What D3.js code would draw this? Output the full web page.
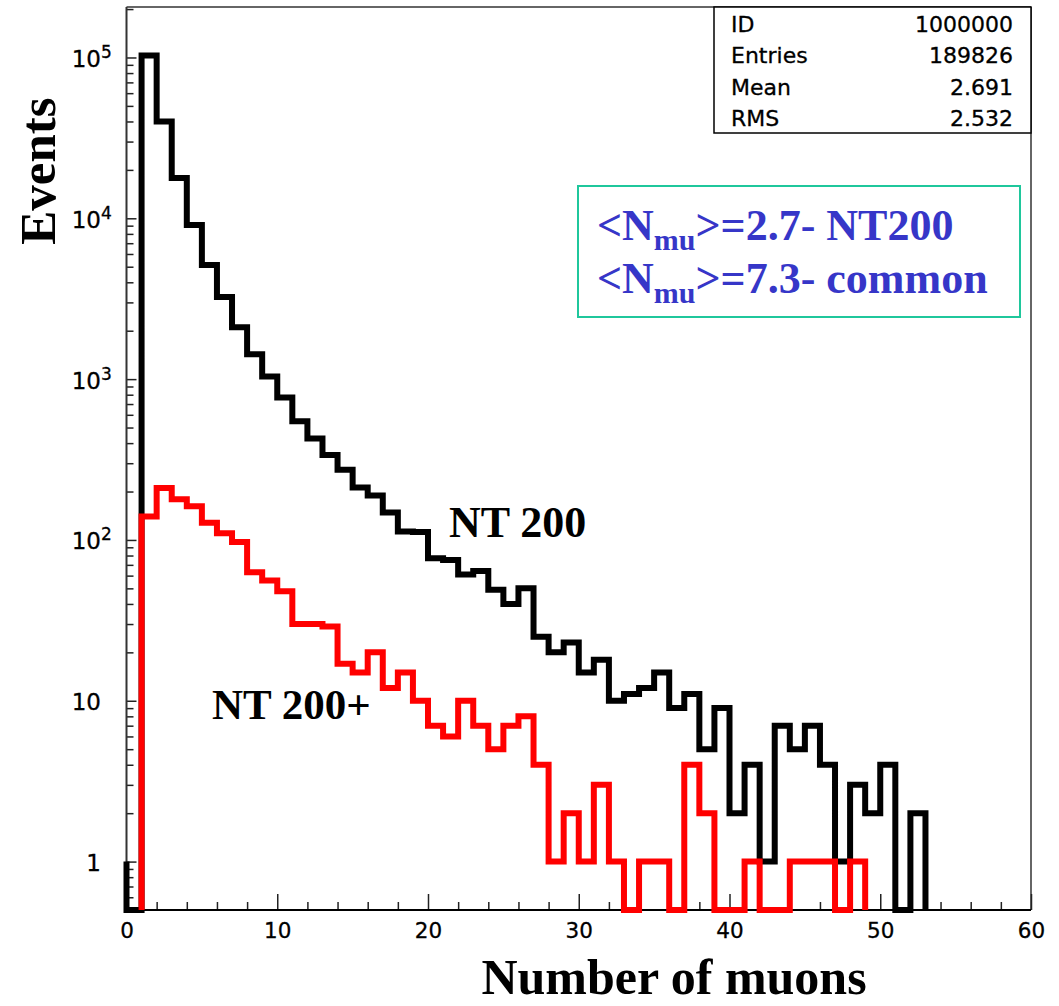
<!DOCTYPE html>
<html>
<head>
<meta charset="utf-8">
<script src="https://cdn.jsdelivr.net/npm/d3@7"></script>
<style>
  body { margin: 0; background: #fff; }
  svg { display: block; }
  .tick line { stroke: #222; stroke-width: 1.5; }
</style>
</head>
<body>
<script>
// unit-wide bins of "Number of muons"
// NT200 (black) : bins 0..52, enters the frame at x=0 at level nt200Under
const nt200Start = 0;
const nt200Under = 1;
const nt200Counts = [0, 103000, 40000, 17800, 9100, 5130, 3240, 2100, 1430, 1040,
  770, 548, 427, 338, 273, 212, 189, 148, 113, 112,
  77, 75, 61, 64, 49, 40, 50, 25, 20, 23,
  15, 18, 10, 11, 12, 15, 9, 11, 5, 9,
  2, 4, 1, 7, 5, 7, 4, 1, 3, 2,
  4, 0, 2];

// NT200+ (red) : bins 1..48
const nt200pStart = 1;
const nt200pUnder = 0;
const nt200pCounts = [140, 210, 179, 162, 128, 110, 97, 63, 56,
  48, 30, 30, 29, 17, 15, 20, 12, 15, 10,
  7, 6, 10, 7, 5, 7, 8, 4, 1, 2,
  1, 3, 1, 0, 1, 1, 0, 4, 2, 0,
  0, 1, 0, 0, 1, 1, 1, 0, 1];

const xMajorTicks = [0, 10, 20, 30, 40, 50, 60];
const xMinorTicks = d3.range(0, 61, 2).filter(function(v) { return v % 10 !== 0; });
const yDecades = [1, 10, 100, 1000, 10000, 100000];
const yDecadeBase = ["1", "10", "10", "10", "10", "10"];
const yDecadeExp = ["", "", "2", "3", "4", "5"];

const statNames = ["ID", "Entries", "Mean", "RMS"];
const statValues = ["1000000", "189826", "2.691", "2.532"];

const legendMeans = ["2.7", "7.3"];
const legendNames = ["NT200", "common"];

var width = 1059, height = 1006;
var frame = {left: 126.5, right: 1031, top: 7, bottom: 910};

var svg = d3.select("body").append("svg")
  .attr("width", width)
  .attr("height", height);

svg.append("rect").attr("width", width).attr("height", height).attr("fill", "#fff");

var x = d3.scaleLinear().domain([0, 60]).range([frame.left, frame.right]);
var y = d3.scaleLog().domain([0.5, 2.06e5]).range([frame.bottom, frame.top]);

// empty bins sit on the bottom of the frame
function yv(v) { return v > 0 ? y(v) : y(0.5); }

// frame
svg.append("line").attr("x1", frame.left).attr("x2", frame.right)
  .attr("y1", frame.top).attr("y2", frame.top)
  .attr("stroke", "#333").attr("stroke-width", 1.5);
svg.append("line").attr("x1", frame.right).attr("x2", frame.right)
  .attr("y1", frame.top).attr("y2", frame.bottom)
  .attr("stroke", "#666").attr("stroke-width", 2);

// y axis ticks (inside, pointing right)
var yMinor = y.ticks().filter(function(v) { return yDecades.indexOf(v) < 0; });
var yAxisMinor = svg.append("g")
  .attr("transform", "translate(" + frame.left + ",0)")
  .call(d3.axisRight(y).tickValues(yMinor).tickSize(7).tickSizeOuter(0).tickFormat(""));
yAxisMinor.select(".domain").remove();
var yAxisMajor = svg.append("g")
  .attr("transform", "translate(" + frame.left + ",0)")
  .call(d3.axisRight(y).tickValues(yDecades).tickSize(10).tickSizeOuter(0).tickFormat(""));
yAxisMajor.select(".domain").remove();

// x axis ticks (inside, pointing up)
var xAxisMinor = svg.append("g")
  .attr("transform", "translate(0," + frame.bottom + ")")
  .call(d3.axisBottom(x).tickValues(xMinorTicks).tickSize(-8).tickSizeOuter(0).tickFormat(""));
xAxisMinor.select(".domain").remove();
var xAxisMajor = svg.append("g")
  .attr("transform", "translate(0," + frame.bottom + ")")
  .call(d3.axisBottom(x).tickValues(xMajorTicks).tickSize(-16).tickSizeOuter(0).tickPadding(13));
xAxisMajor.select(".domain").remove();
xAxisMajor.selectAll("text")
  .attr("font-family", "DejaVu Sans")
  .attr("font-size", 21.5)
  .attr("fill", "#000")
  .attr("stroke", "#000")
  .attr("stroke-width", 0.3);

// axis lines
svg.append("line").attr("x1", frame.left).attr("x2", frame.left)
  .attr("y1", frame.top).attr("y2", frame.bottom)
  .attr("stroke", "#333").attr("stroke-width", 2);
svg.append("line").attr("x1", frame.left).attr("x2", frame.right)
  .attr("y1", frame.bottom).attr("y2", frame.bottom)
  .attr("stroke", "#000").attr("stroke-width", 2);

// y labels 1, 10, 10^2 ...
var yLab = svg.append("g").attr("font-family", "DejaVu Sans").attr("fill", "#000")
  .attr("stroke", "#000").attr("stroke-width", 0.3);
yDecades.forEach(function(v, i) {
  yLab.append("text")
    .attr("x", 101)
    .attr("y", y(v) + 9.5)
    .attr("text-anchor", "end")
    .attr("font-size", 23)
    .text(yDecadeBase[i]);
  if (yDecadeExp[i]) {
    yLab.append("text")
      .attr("x", 101)
      .attr("y", y(v) + 0.5)
      .attr("font-size", 17)
      .text(yDecadeExp[i]);
  }
});

// step outline of a histogram
function stepPoints(counts, start, under) {
  var pts = [[start, under]];
  counts.forEach(function(c, i) {
    pts.push([start + i, c]);
    pts.push([start + i + 1, c]);
  });
  pts.push([start + counts.length, 0]);
  return pts;
}

var line = d3.line()
  .x(function(d) { return x(d[0]); })
  .y(function(d) { return yv(d[1]); });

svg.append("path")
  .datum(stepPoints(nt200Counts, nt200Start, nt200Under))
  .attr("d", line)
  .attr("fill", "none")
  .attr("stroke", "#000")
  .attr("stroke-width", 6)
  .attr("stroke-linejoin", "miter");

svg.append("path")
  .datum(stepPoints(nt200pCounts, nt200pStart, nt200pUnder))
  .attr("d", line)
  .attr("fill", "none")
  .attr("stroke", "#ff0000")
  .attr("stroke-width", 6)
  .attr("stroke-linejoin", "miter");

// curve labels
svg.append("text")
  .attr("x", 449).attr("y", 537)
  .attr("font-family", "Liberation Serif").attr("font-weight", "bold")
  .attr("font-size", 44)
  .text("NT 200");
svg.append("text")
  .attr("x", 212).attr("y", 719)
  .attr("font-family", "Liberation Serif").attr("font-weight", "bold")
  .attr("font-size", 43)
  .text("NT 200+");

// axis titles
svg.append("text")
  .attr("transform", "translate(55,171) rotate(-90)")
  .attr("text-anchor", "middle")
  .attr("font-family", "Liberation Serif").attr("font-weight", "bold")
  .attr("font-size", 51)
  .text("Events");
svg.append("text")
  .attr("x", 674).attr("y", 994)
  .attr("text-anchor", "middle")
  .attr("font-family", "Liberation Serif").attr("font-weight", "bold")
  .attr("font-size", 50)
  .text("Number of muons");

// stats box
var stats = svg.append("g");
stats.append("rect")
  .attr("x", 714).attr("y", frame.top)
  .attr("width", frame.right - 714).attr("height", 126)
  .attr("fill", "#fff").attr("stroke", "#000").attr("stroke-width", 1.5);
statNames.forEach(function(name, i) {
  stats.append("text")
    .attr("x", 731).attr("y", 32 + i * 31.3)
    .attr("font-family", "DejaVu Sans").attr("font-size", 22)
    .attr("stroke", "#000").attr("stroke-width", 0.3)
    .text(name);
  stats.append("text")
    .attr("x", 1013).attr("y", 32 + i * 31.3)
    .attr("text-anchor", "end")
    .attr("font-family", "DejaVu Sans").attr("font-size", 22)
    .attr("stroke", "#000").attr("stroke-width", 0.3)
    .text(statValues[i]);
});

// mean multiplicity box
var leg = svg.append("g");
leg.append("rect")
  .attr("x", 578).attr("y", 186)
  .attr("width", 442).attr("height", 131)
  .attr("fill", "#fff").attr("stroke", "#1fc79c").attr("stroke-width", 2);
legendMeans.forEach(function(m, i) {
  var t = leg.append("text")
    .attr("x", 597).attr("y", 240 + i * 53)
    .attr("font-family", "Liberation Serif").attr("font-weight", "bold")
    .attr("font-size", 44)
    .attr("fill", "#3636c8");
  t.append("tspan").text("<N");
  t.append("tspan").attr("dy", 10).attr("font-size", 30).text("mu");
  t.append("tspan").attr("dy", -10).text(">=" + m + "- " + legendNames[i]);
});
</script>
</body>
</html>
